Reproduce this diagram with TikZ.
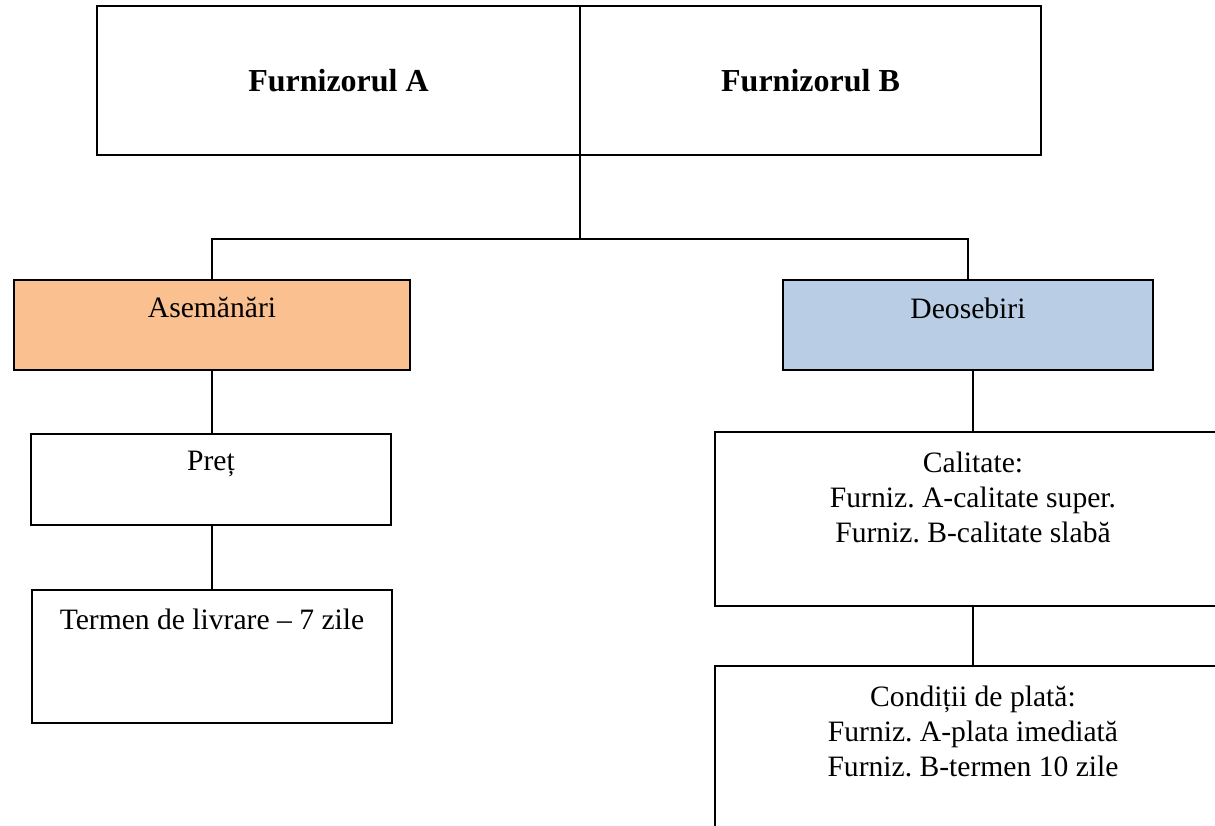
\documentclass[tikz,border=0pt]{standalone}
\usepackage{fontspec}
\setmainfont{Liberation Serif}
\frenchspacing
\definecolor{asemfill}{HTML}{FAC090}
\definecolor{deosfill}{HTML}{B9CDE5}
\tikzset{
  box/.style={draw, line width=1pt, inner sep=0pt},
  link/.style={line width=0.8pt},
  lbl/.style={anchor=north, inner sep=0pt, align=center, font=\fontsize{14.8}{17.5}\selectfont},
}

\begin{document}
\begin{tikzpicture}[x=0.5pt,y=-0.5pt]
\useasboundingbox (0,0) rectangle (1215,825);
\clip (0,0) rectangle (1215,825);

\node[box, minimum width=241.5pt, minimum height=74.5pt, font=\fontsize{16}{19}\selectfont\bfseries] (fA) at (338.5,80.5) {Furnizorul A};
\node[box, minimum width=230.5pt, minimum height=74.5pt, font=\fontsize{16}{19}\selectfont\bfseries] (fB) at (810.5,80.5) {Furnizorul B};

\node[box, fill=asemfill, minimum width=198pt, minimum height=45pt, label={[lbl, yshift=-9pt]north:Asemănări}] (asem) at (212,325) {};
\node[box, fill=deosfill, minimum width=185pt, minimum height=45pt, label={[lbl, yshift=-9.5pt]north:Deosebiri}] (deos) at (968,325) {};

\node[box, minimum width=180pt, minimum height=45.5pt, label={[lbl, yshift=-9pt]north:Preț}] (pret) at (211,479.5) {};
\node[box, minimum width=180pt, minimum height=66.5pt, label={[lbl, yshift=-10pt]north:Termen de livrare – 7 zile}] (term) at (212,656.5) {};

\node[box, minimum width=258pt, minimum height=87pt, label={[lbl, yshift=-10.5pt]north:{Calitate:\\Furniz. A-calitate super.\\Furniz. B-calitate slabă}}] (cal) at (973,519) {};
\node[box, minimum width=258pt, minimum height=107pt, label={[lbl, yshift=-10.5pt]north:{Condiții de plată:\\Furniz. A-plata imediată\\Furniz. B-termen 10 zile}}] (cond) at (973,773) {};

\coordinate (split) at (580,239);
\draw[link] (split |- fA.south) -- (split);
\draw[link] (asem.north) |- (split) -| (deos.north);
\draw[link] (asem.south) -- (asem.south |- pret.north);
\draw[link] (asem.south |- pret.south) -- (asem.south |- term.north);
\draw[link] (cal.north) -- (cal.north |- deos.south);
\draw[link] (cal.south) -- (cond.north);
\end{tikzpicture}
\end{document}
